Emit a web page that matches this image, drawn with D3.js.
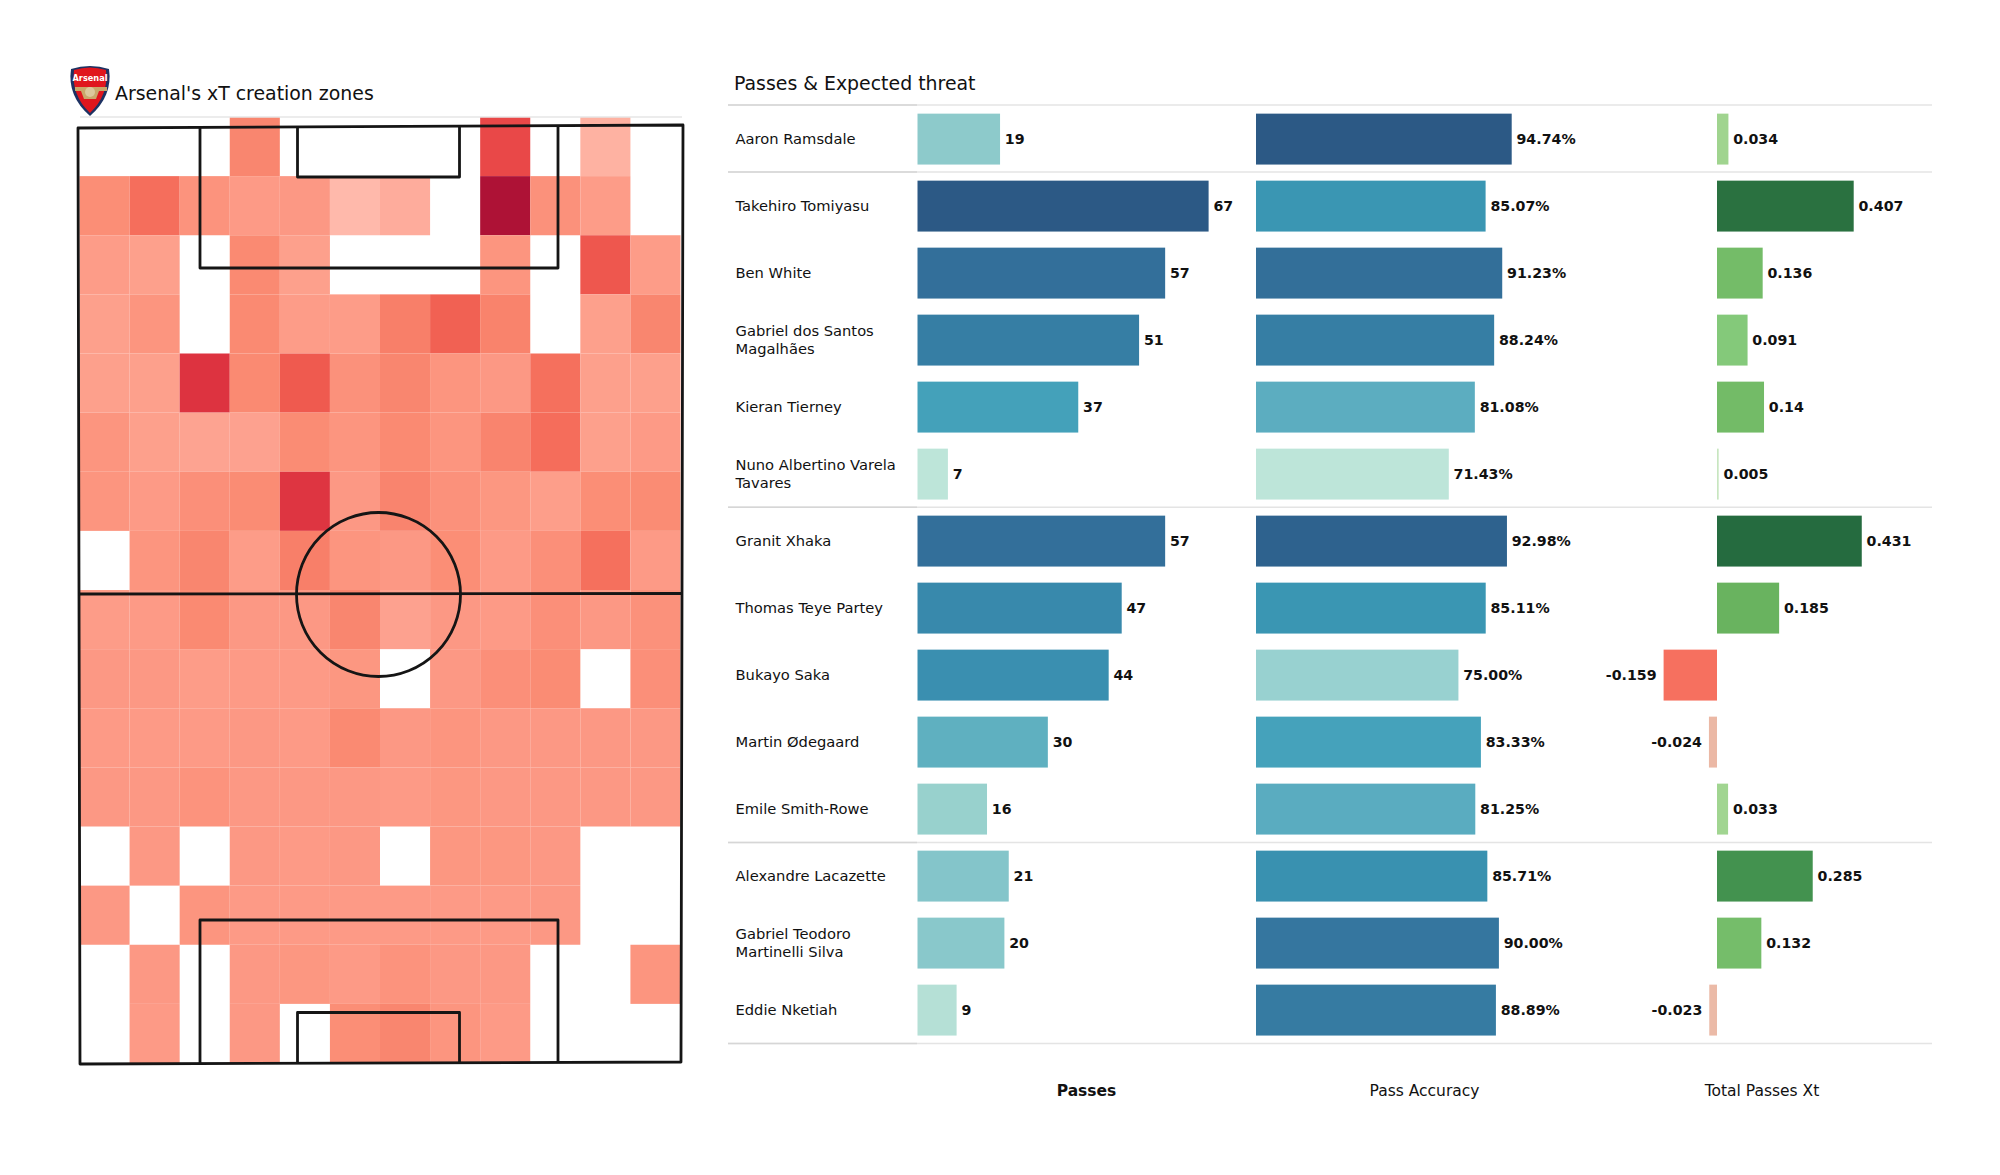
<!DOCTYPE html>
<html><head><meta charset="utf-8">
<script src="https://cdn.jsdelivr.net/npm/d3@7"></script>
<style>html,body{margin:0;padding:0;background:#fff}svg{display:block}text{font-family:"DejaVu Sans",sans-serif;fill:#111}</style>
</head><body><svg id="c" width="2000" height="1175"></svg>
<script>
const players=["Aaron Ramsdale","Takehiro Tomiyasu","Ben White","Gabriel dos Santos\nMagalhães","Kieran Tierney","Nuno Albertino Varela\nTavares","Granit Xhaka","Thomas Teye Partey","Bukayo Saka","Martin Ødegaard","Emile Smith-Rowe","Alexandre Lacazette","Gabriel Teodoro\nMartinelli Silva","Eddie Nketiah"];
const passes=[19,67,57,51,37,7,57,47,44,30,16,21,20,9];
const accuracy=[94.74,85.07,91.23,88.24,81.08,71.43,92.98,85.11,75.00,83.33,81.25,85.71,90.00,88.89];
const xt=[0.034,0.407,0.136,0.091,0.14,0.005,0.431,0.185,-0.159,-0.024,0.033,0.285,0.132,-0.023];
const separators=[0,1,6,11,14];
const heat=[
[null,null,null,32,null,null,null,null,72,null,8,null],
[28,45,25,21,22,4,11,null,100,26,20,null],
[20,18,null,30,18,null,null,null,24,null,62,20],
[18,24,null,30,20,20,36,55,34,null,18,32],
[18,18,85,30,60,26,32,24,22,44,18,18],
[24,18,16,17,29,24,30,24,33,46,18,21],
[24,21,27,29,84,22,33,26,23,19,28,29],
[null,24,32,20,36,24,22,28,21,27,44,21],
[20,21,30,22,22,32,17,22,21,27,22,26],
[22,22,20,21,21,23,null,22,27,29,null,27],
[21,21,21,22,21,30,22,24,22,22,22,22],
[22,22,25,22,22,22,21,23,22,22,22,22],
[null,22,null,22,21,22,null,23,23,22,null,null],
[22,null,24,21,21,21,21,21,21,22,null,null],
[null,22,null,22,23,21,25,22,22,null,null,24],
[null,21,null,22,null,28,32,24,21,null,null,null]];
const colLabels=["Passes","Pass Accuracy","Total Passes Xt"];

const svg=d3.select("#c");
// heat map
const hx=d3.scaleBand().domain(d3.range(12)).range([79.5,680.5]);
const hy=d3.scaleBand().domain(d3.range(16)).range([117,1063]);
const hc=d3.scaleLinear().domain([0,20,30,45,60,75,85,100]).range(["#ffc0b4","#fd9c88","#fa8a72","#f56e5c","#ef5a4f","#e74446","#dd3340","#ae1236"]);
heat.forEach((row,r)=>row.forEach((v,c)=>{ if(v===null) return;
  svg.append("rect").attr("x",hx(c)).attr("y",hy(r)).attr("width",hx.bandwidth()).attr("height",hy.bandwidth()).attr("fill",hc(v));
}));
// pitch
const p=svg.append("g").attr("fill","none").attr("stroke","#151515").attr("stroke-width",2.8).attr("stroke-linejoin","round");
p.append("path").attr("d","M78,128 L683,125 L681,1062 L80,1064 Z");
p.append("path").attr("d","M78.5,594 L682,593.5");
p.append("path").attr("d","M200,127.5 V268 H558 V126");
p.append("path").attr("d","M297.5,127 V177 H459.5 V126");
p.append("path").attr("d","M200,1064 V920 H558 V1063");
p.append("path").attr("d","M297.5,1064 V1012.5 H459.5 V1063");
p.append("circle").attr("cx",378.5).attr("cy",594.5).attr("r",82);
// left title
svg.append("line").attr("x1",80).attr("x2",682).attr("y1",117).attr("y2",117).attr("stroke","#e6e6e6").attr("stroke-width",1.5);
svg.append("text").attr("x",115).attr("y",100).attr("font-size",18.9).text("Arsenal's xT creation zones");
// crest
const cr=svg.append("g").attr("transform","translate(69,66)");
cr.append("path").attr("d","M2,3 Q21,-3 40,3 Q44,30 21,50 Q-2,30 2,3 Z").attr("fill","#1d3263");
cr.append("path").attr("d","M5,4 Q21,-1 37,4 Q40,29 21,47 Q2,29 5,4 Z").attr("fill","#e0161d");
cr.append("path").attr("d","M6,21 H38 V25 H30 L27,33 H15 L12,25 H6 Z").attr("fill","#c9a86a");
cr.append("circle").attr("cx",21).attr("cy",26).attr("r",5).attr("fill","#dcc89c");
cr.append("text").attr("x",21).attr("y",15).attr("text-anchor","middle").attr("font-size",8.2).attr("font-weight","bold").style("fill","#fff").text("Arsenal");
// right title
svg.append("text").attr("x",734).attr("y",90).attr("font-size",18.9).text("Passes & Expected threat");

const rowY=d3.scaleBand().domain(d3.range(14)).range([105.6,1043.6]).paddingInner(0.24).paddingOuter(0.12);
const sepY=d3.scaleLinear().domain([0,14]).range([105,1043.5]);
separators.forEach(k=>{
  svg.append("line").attr("x1",728).attr("x2",1932).attr("y1",sepY(k)).attr("y2",sepY(k)).attr("stroke","#e4e4e4").attr("stroke-width",1.5);
  svg.append("line").attr("x1",728).attr("x2",917).attr("y1",sepY(k)).attr("y2",sepY(k)).attr("stroke","#d6d6d6").attr("stroke-width",1.5);
});
// names
players.forEach((n,i)=>{
  const cy=rowY(i)+rowY.bandwidth()/2, lines=n.split("\n");
  lines.forEach((t,j)=>svg.append("text").attr("x",735.5).attr("y",cy+(j-(lines.length-1)/2)*17.5).attr("dy","0.35em").attr("font-size",14.7).text(t));
});
// passes
const xP=d3.scaleLinear().domain([0,67]).range([917.5,1208.6]);
const cP=d3.scaleLinear().domain([7,9,16,19,21,30,37,44,47,51,57,67]).range(["#bde5d9","#b5e0d6","#98d1cd","#8dcacb","#84c5ca","#5fb0c0","#44a1ba","#3a8fb0","#3889ac","#367ea4","#336f9a","#2c5985"]);
// accuracy
const xA=d3.scaleLinear().domain([0,94.74]).range([1256,1511.7]);
const cA=d3.scaleLinear().domain([71.43,75,81.08,83.33,85.07,88.24,90,91.23,92.98,94.74]).range(["#bde5d9","#98d1d0","#5cadc0","#45a2bb","#3a96b3","#367ea4","#35769f","#336f99","#2e628e","#2c5985"]);
// xT
const xX=d3.scaleLinear().domain([0,0.407]).range([1717,1853.7]);
const cX=d3.scaleLinear().domain([-0.159,-0.024,0,0.005,0.034,0.091,0.136,0.185,0.285,0.407,0.431]).range(["#f6705f","#ebb8a5","#f0e8d8","#c8e6c0","#a0d48f","#84c97a","#74bc68","#69b35f","#43924f","#2a7140","#256b3f"]);
function bars(vals,x,c,fmt){
  svg.append("g").selectAll("rect").data(vals).join("rect")
    .attr("x",d=>Math.min(x(0),x(d))).attr("width",d=>Math.abs(x(d)-x(0)))
    .attr("y",(d,i)=>rowY(i)).attr("height",rowY.bandwidth()).attr("fill",d=>c(d));
  svg.append("g").selectAll("text").data(vals).join("text")
    .attr("x",d=>d<0?x(d)-7:x(d)+4.8).attr("y",(d,i)=>rowY(i)+rowY.bandwidth()/2).attr("dy","0.35em")
    .attr("text-anchor",d=>d<0?"end":"start").attr("font-size",14.2).attr("font-weight","bold").text(fmt);
}
bars(passes,xP,cP,d=>d);
bars(accuracy,xA,cA,d=>d.toFixed(2)+"%");
bars(xt,xX,cX,d=>String(d));
// footer
const footX=d3.scaleOrdinal().domain(colLabels).range([1086.5,1424.5,1762]);
colLabels.forEach((t,i)=>svg.append("text").attr("x",footX(t)).attr("y",1096).attr("text-anchor","middle").attr("font-size",15.5).attr("font-weight",i===0?"bold":"normal").text(t));
</script></body></html>
